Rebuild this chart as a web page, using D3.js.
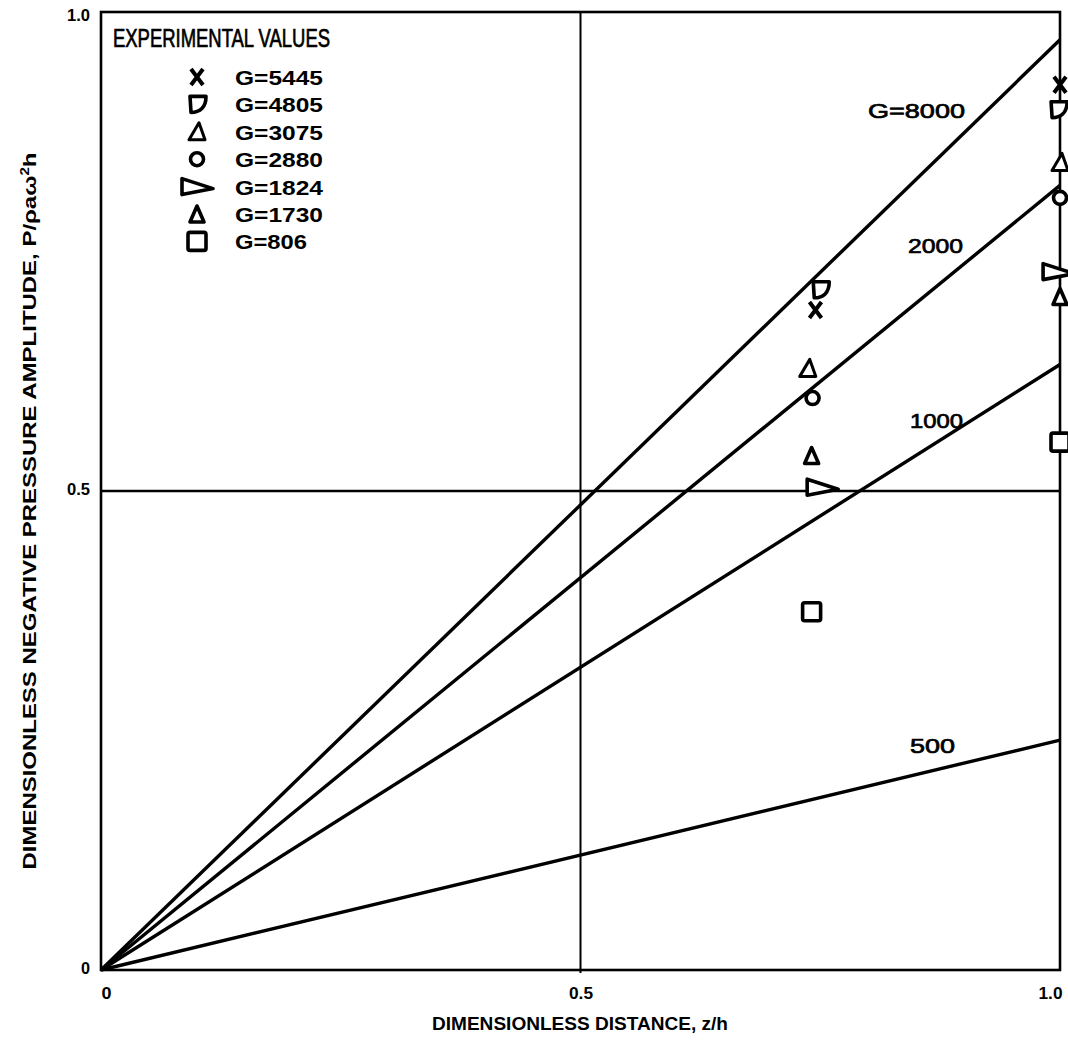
<!DOCTYPE html>
<html lang="en">
<head>
<meta charset="UTF-8">
<title>Dimensionless negative pressure amplitude</title>
<script src="https://d3js.org/d3.v7.min.js"></script>
<style>
  body { margin: 0; background: #fff; }
  text { font-family: "Liberation Sans", Arial, sans-serif; fill: #000; }
  .tick text { font-size: 16px; font-weight: bold; }
</style>
</head>
<body>
<script>
// theoretical lines: value reached at z/h = 1.0
const lineNames = ["G=8000", "2000", "1000", "500"];
const lineEnds = [0.971, 0.819, 0.632, 0.240];

// experimental values
const seriesNames = ["G=5445", "G=4805", "G=3075", "G=2880", "G=1824", "G=1730", "G=806"];
const seriesShapes = ["x", "d", "tri", "circle", "rtri", "tri2", "square"];
const seriesX = [
  [0.745, 1.0], [0.750, 0.998], [0.737, 1.0], [0.742, 1.0],
  [0.752, 0.998], [0.741, 1.0], [0.741, 1.0]
];
const seriesY = [
  [0.689, 0.924], [0.710, 0.898], [0.628, 0.843], [0.597, 0.806],
  [0.504, 0.729], [0.537, 0.703], [0.374, 0.551]
];

const xTicks = [0, 0.5, 1.0];
const xTickLabels = ["0", "0.5", "1.0"];
const yTicks = [0, 0.5, 1.0];
const yTickLabels = ["0", "0.5", "1.0"];

const width = 1068, height = 1041;
const svg = d3.select("body").append("svg")
  .attr("width", width)
  .attr("height", height);

const x = d3.scaleLinear().domain([0, 1]).range([101, 1060]);
const y = d3.scaleLinear().domain([0, 1]).range([970, 12]);

// grid lines at 0.5
svg.append("line")
  .attr("x1", x(0.5)).attr("x2", x(0.5))
  .attr("y1", y(1)).attr("y2", y(0) + 3)
  .attr("stroke", "#000").attr("stroke-width", 2);
svg.append("line")
  .attr("x1", x(0)).attr("x2", x(1))
  .attr("y1", y(0.5)).attr("y2", y(0.5))
  .attr("stroke", "#000").attr("stroke-width", 2.4);

// frame
svg.append("rect")
  .attr("x", x(0)).attr("y", y(1))
  .attr("width", x(1) - x(0)).attr("height", y(0) - y(1))
  .attr("fill", "none").attr("stroke", "#000").attr("stroke-width", 2.6);

// axes (labels only)
const xAxis = svg.append("g")
  .attr("transform", `translate(0,${y(0)})`)
  .call(d3.axisBottom(x).tickValues(xTicks).tickSize(0)
    .tickFormat((d, i) => xTickLabels[i]));
xAxis.select(".domain").remove();
xAxis.selectAll("text")
  .attr("dy", 0).attr("y", 29)
  .attr("text-anchor", (d, i) => i === 2 ? "end" : "middle")
  .attr("dx", (d, i) => i === 0 ? 5 : (i === 2 ? 2 : 0))
  .attr("textLength", (d, i) => i === 0 ? 10 : 24)
  .attr("lengthAdjust", "spacingAndGlyphs");

const yAxis = svg.append("g")
  .attr("transform", `translate(${x(0)},0)`)
  .call(d3.axisLeft(y).tickValues(yTicks).tickSize(0)
    .tickFormat((d, i) => yTickLabels[i]));
yAxis.select(".domain").remove();
yAxis.selectAll("text")
  .attr("x", -11).attr("dy", (d, i) => i === 2 ? "0.5em" : "0.2em")
  .attr("textLength", (d, i) => i === 0 ? 9 : 23)
  .attr("lengthAdjust", "spacingAndGlyphs");

// axis titles
svg.append("text")
  .attr("x", 580).attr("y", 1030)
  .attr("text-anchor", "middle")
  .attr("textLength", 296).attr("lengthAdjust", "spacingAndGlyphs")
  .style("font-size", "18px").style("font-weight", "bold")
  .text("DIMENSIONLESS DISTANCE, z/h");

const yt = svg.append("text")
  .attr("transform", "translate(36,511) rotate(-90)")
  .attr("text-anchor", "middle")
  .attr("textLength", 717).attr("lengthAdjust", "spacingAndGlyphs")
  .style("font-size", "19px").style("font-weight", "bold");
yt.append("tspan").text("DIMENSIONLESS NEGATIVE PRESSURE AMPLITUDE, P/ρaω");
yt.append("tspan").attr("dy", -7).style("font-size", "12px").text("2");
yt.append("tspan").attr("dy", 7).text("h");

// theoretical lines
const line = d3.line().x(d => x(d[0])).y(d => y(d[1]));
svg.selectAll(".theory")
  .data(lineEnds)
  .join("path")
  .attr("class", "theory")
  .attr("d", v => line([[0, 0], [1, v]]))
  .attr("fill", "none")
  .attr("stroke", "#000")
  .attr("stroke-width", 3.4);

const lineLabelPos = [[868, 118, 97], [908, 253, 55], [910, 428, 53], [910, 753, 45]];
svg.selectAll(".lineLabel")
  .data(lineNames)
  .join("text")
  .attr("class", "lineLabel")
  .attr("x", (d, i) => lineLabelPos[i][0])
  .attr("y", (d, i) => lineLabelPos[i][1])
  .attr("textLength", (d, i) => lineLabelPos[i][2])
  .attr("lengthAdjust", "spacingAndGlyphs")
  .style("font-size", "21px")
  .style("stroke", "#000").style("stroke-width", 0.7)
  .text(d => d);

// marker shapes
function drawShape(g, shape) {
  let el;
  if (shape === "x") {
    el = g.append("path").attr("d", "M-6,-8L6,8M6,-8L-6,8").attr("fill", "none").attr("stroke-width", 4);
  } else if (shape === "d") {
    el = g.append("path").attr("d", "M-7,-8L9,-8C9,3 3,8 -6,8Z");
  } else if (shape === "tri") {
    el = g.append("path").attr("d", "M2,-9L8,8L-8,8Z").attr("stroke-width", 3);
  } else if (shape === "tri2") {
    el = g.append("path").attr("d", "M0,-8L7,8L-7,8Z").attr("stroke-width", 3.6);
  } else if (shape === "circle") {
    el = g.append("circle").attr("r", 6.5);
  } else if (shape === "rtri") {
    el = g.append("path").attr("d", "M-15,-8L16,2L-15,8Z");
  } else {
    el = g.append("rect").attr("x", -9).attr("y", -9).attr("width", 18).attr("height", 18).attr("rx", 2);
  }
  el.attr("stroke", "#000").attr("stroke-linejoin", "round");
  if (shape !== "x") el.attr("fill", "#fff");
  if (!el.attr("stroke-width")) el.attr("stroke-width", 3.6);
}

seriesNames.forEach((name, i) => {
  seriesX[i].forEach((xv, j) => {
    const g = svg.append("g")
      .attr("transform", `translate(${x(xv)},${y(seriesY[i][j])})`);
    drawShape(g, seriesShapes[i]);
  });
});

// legend
svg.append("text")
  .attr("x", 113).attr("y", 47)
  .attr("textLength", 217).attr("lengthAdjust", "spacingAndGlyphs")
  .style("font-size", "25px")
  .style("stroke", "#000").style("stroke-width", 0.7)
  .text("EXPERIMENTAL VALUES");

const legend = svg.selectAll(".legendRow")
  .data(seriesNames)
  .join("g")
  .attr("class", "legendRow")
  .attr("transform", (d, i) => `translate(197,${77 + i * 27.4})`);
legend.each(function (d, i) { drawShape(d3.select(this), seriesShapes[i]); });
legend.append("text")
  .attr("x", 38).attr("y", 8)
  .attr("textLength", d => d.length === 6 ? 88 : 72)
  .attr("lengthAdjust", "spacingAndGlyphs")
  .style("font-size", "21px").style("font-weight", "bold")
  .text(d => d);
</script>
</body>
</html>
